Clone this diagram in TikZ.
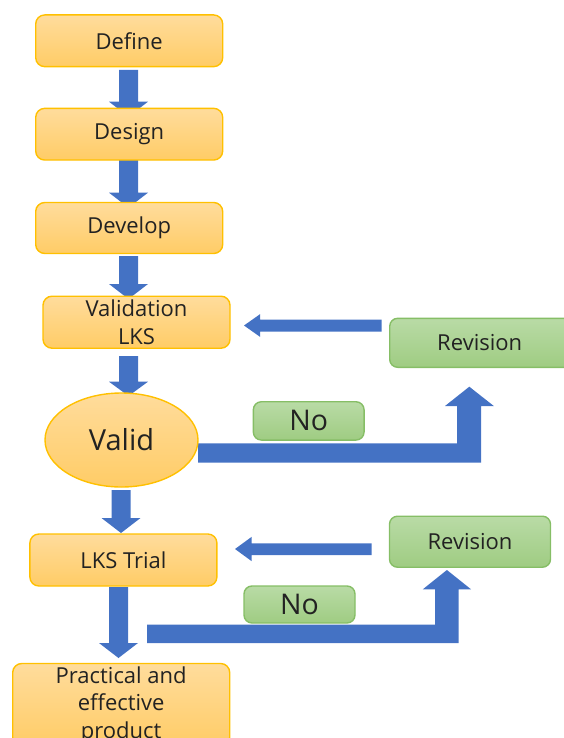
\documentclass[tikz,border=0pt]{standalone}
\usepackage{fontspec}
\setmainfont{Open Sans}
\usetikzlibrary{shapes.geometric,calc}
\definecolor{obord}{HTML}{FFC000}
\definecolor{otop}{HTML}{FFDC9C}
\definecolor{obot}{HTML}{FFCC66}
\definecolor{gtop}{HTML}{B9DBA6}
\definecolor{gbot}{HTML}{9FCC82}
\definecolor{gbord}{HTML}{86BE66}
\definecolor{ablue}{HTML}{4472C4}
\definecolor{tcol}{HTML}{222222}
\pgfdeclarelayer{background}
\pgfsetlayers{background,main}
\begin{document}
\begin{tikzpicture}[x=1pt,y=-1pt,
  obox/.style={draw=obord, line width=1.4pt, rounded corners=9pt, top color=otop, bottom color=obot,
    inner sep=0pt, align=center, text=tcol, font=\fontsize{22}{27.5}\selectfont},
  gbox/.style={draw=gbord, line width=1.4pt, rounded corners=8pt, top color=gtop, bottom color=gbot,
    inner sep=0pt, align=center, text=tcol, font=\fontsize{22}{27.5}\selectfont},
  blk/.style={fill=ablue, draw=none}]
\useasboundingbox (0,0) rectangle (563,738);

% nodes
\node[obox, minimum width=187pt, minimum height=51.7pt] (def) at (129.2,40.8) {Define};
\node[obox, minimum width=187pt, minimum height=51.7pt] (des) at (129.2,134.2) {Design};
\node[obox, minimum width=187pt, minimum height=51pt] (dev) at (129.2,228) {Develop};
\node[obox, minimum width=187pt, minimum height=52pt] (val) at (136.5,322.2) {Validation\\LKS};
\node[ellipse, draw=obord, line width=1.4pt, top color=otop, bottom color=obot, inner sep=0pt,
      minimum width=153pt, minimum height=94pt, text=tcol, font=\fontsize{29}{34}\selectfont]
      (valid) at (121.5,440) {Valid};
\node[obox, minimum width=187pt, minimum height=52pt] (trial) at (123.4,560) {LKS Trial};
\node[obox, minimum width=217pt, minimum height=83pt] (prod) at (121.2,705) {Practical and\\effective\\product};
\node[gbox, minimum width=182pt, minimum height=49pt] (rev1) at (480.7,342.8) {\hspace*{-2pt}Revision};
\node[gbox, minimum width=110.7pt, minimum height=38.3pt, font=\fontsize{28.5}{33}\selectfont] (no1) at (308.7,420.9) {No};
\node[gbox, minimum width=161pt, minimum height=51pt] (rev2) at (470,541.7) {Revision};
\node[gbox, minimum width=111pt, minimum height=37pt, font=\fontsize{28.5}{33}\selectfont] (no2) at (299.5,604.5) {No};

\begin{pgfonlayer}{background}
% vertical block arrows (x centre, top, head base, tip)
\foreach \xc/\yt/\yb/\ytip in {128.5/70/101.7/116.7, 128.5/160/192.7/207.7, 128.5/256/284/299,
                              128.5/356/381.7/396, 121/490/518/533, 118.5/587/643/658}{
  \fill[ablue] ({\xc-9.5},\yt) -- ({\xc+9.5},\yt) -- ({\xc+9.5},\yb) -- ({\xc+19.5},\yb)
     -- (\xc,\ytip) -- ({\xc-19.5},\yb) -- ({\xc-9.5},\yb) -- cycle;
}
% Revision -> Validation LKS
\fill[blk] (381.7,319.5) -- (260,319.5) -- (260,314.2) -- (244,325.5) -- (260,336.8)
   -- (260,331.7) -- (381.7,331.7) -- cycle;
% Revision -> LKS Trial
\fill[blk] (371.5,543.3) -- (251.7,543.3) -- (251.7,536.8) -- (235,549) -- (251.7,561.2)
   -- (251.7,555) -- (371.5,555) -- cycle;
% Valid -> Revision (No)
\fill[blk] (198,443.3) -- (457,443.3) -- (457,406) -- (445,406) -- (469.3,386.7) -- (493.8,406)
   -- (481.2,406) -- (481.2,462.5) -- (198,462.5) -- cycle;
% LKS Trial -> Revision (No)
\fill[blk] (147,624.5) -- (435.2,624.5) -- (435.2,589.3) -- (422.8,589.3) -- (446.9,570) -- (471,589.3)
   -- (458.6,589.3) -- (458.6,643.2) -- (147,643.2) -- cycle;
\end{pgfonlayer}
\end{tikzpicture}
\end{document}
